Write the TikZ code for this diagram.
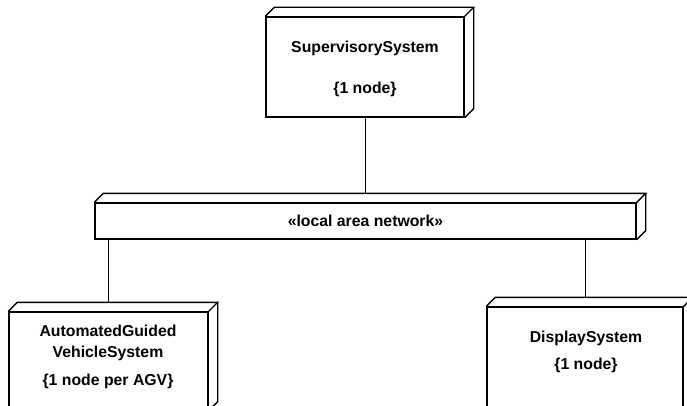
\documentclass[tikz,border=0pt]{standalone}
\usepackage{fontspec}
\setmainfont{Liberation Sans}
\usetikzlibrary{positioning,calc}

\begin{document}
\begin{tikzpicture}[
        x=1pt, y=-1pt,
        devbox/.style={
            draw,
            rectangle,
            line width=1.4pt,
            fill=white,
            inner sep=0pt
        },
        devface/.style={
            draw,
            line width=1.4pt,
            line join=miter
        },
        devtext/.style={
            align=center,
            anchor=base,
            inner sep=0pt,
            font=\fontsize{15.8}{21}\selectfont\bfseries
        },
        link/.style={
            draw,
            line width=0.9pt
        }
    ]
        \useasboundingbox (0,0) rectangle (687,406);
        \clip (0,0) rectangle (687,406);

        \node[devbox, minimum width=198pt, minimum height=100pt] (sup) at (365,67) {};
        \node[devbox, minimum width=541pt, minimum height=36pt, font=\fontsize{15.8}{21}\selectfont\bfseries] (lan) at (365.5,221) {«local area network»};
        \node[devbox, minimum width=199pt, minimum height=98pt] (agv) at (108.5,361) {};
        \node[devbox, minimum width=196pt, minimum height=105pt] (disp) at (585,359.5) {};

        % base anchor sits on the last line
        \node[devtext] (supText) at (365,94) {SupervisorySystem\\[20pt]\{1 node\}};
        \node[devtext] (agvText) at (108,385) {AutomatedGuided\\VehicleSystem\\[7pt]\{1 node per AGV\}};
        \node[devtext] (dispText) at (586,369) {DisplaySystem\\[6pt]\{1 node\}};

        % top and side faces
        \draw[devface] (sup.north west) -- ++(9pt,9pt) -- ($(sup.north east)+(9pt,9pt)$) -- (sup.north east)
            ($(sup.north east)+(9pt,9pt)$) -- ($(sup.south east)+(9pt,9pt)$) -- (sup.south east);
        \draw[devface] (lan.north west) -- ++(9pt,9pt) -- ($(lan.north east)+(9pt,9pt)$) -- (lan.north east)
            ($(lan.north east)+(9pt,9pt)$) -- ($(lan.south east)+(9pt,9pt)$) -- (lan.south east);
        \draw[devface] (agv.north west) -- ++(9pt,9pt) -- ($(agv.north east)+(9pt,9pt)$) -- (agv.north east)
            ($(agv.north east)+(9pt,9pt)$) -- ($(agv.south east)+(9pt,9pt)$) -- (agv.south east);
        \draw[devface] (disp.north west) -- ++(9pt,9pt) -- ($(disp.north east)+(9pt,9pt)$) -- (disp.north east)
            ($(disp.north east)+(9pt,9pt)$) -- ($(disp.south east)+(9pt,9pt)$) -- (disp.south east);

        \coordinate (lanTop) at ($(lan.north)+(0,9pt)$);
        \coordinate (agvTop) at ($(agv.north)+(0,9pt)$);
        \coordinate (dispTop) at ($(disp.north)+(0,9pt)$);

        \draw[link] (sup.south) -- (sup.south |- lanTop);
        \draw[link] (agv.north |- lan.south) -- (agvTop);
        \draw[link] (disp.north |- lan.south) -- (dispTop);
    \end{tikzpicture}
\end{document}
